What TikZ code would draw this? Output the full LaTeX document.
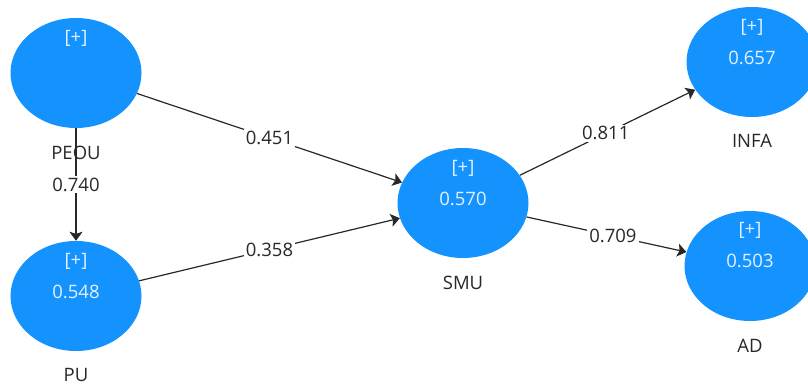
\documentclass[tikz,border=0pt]{standalone}
\usepackage{fontspec}
\setmainfont{Open Sans}
\usetikzlibrary{shapes.geometric,arrows.meta}
\definecolor{lvblue}{RGB}{20,147,255}
\definecolor{intext}{RGB}{228,240,255}
\definecolor{darktext}{RGB}{40,40,40}
\definecolor{lineclr}{RGB}{40,40,40}
\begin{document}
\begin{tikzpicture}[x=1pt,y=-1pt,
  latent/.style={ellipse,fill=lvblue,draw=none,minimum width=131pt,minimum height=110pt,inner sep=0pt},
  intxt/.style={text=intext,font=\fontsize{18.5}{20}\selectfont,inner sep=0pt},
  varname/.style={text=darktext,font=\fontsize{18.5}{20}\selectfont,inner sep=0pt},
  elab/.style={text=darktext,fill=white,font=\fontsize{18.5}{20}\selectfont,inner sep=2pt,pos=0.5},
  conn/.style={draw=lineclr,line width=1.2pt,-{Stealth[length=9pt,width=13pt,inset=2pt]}}]
\useasboundingbox (0,0) rectangle (808,385);
% latent variables
\node[latent] (peou) at (76,73) {};
\node[latent] (pu) at (76,296) {};
\node[latent] (smu) at (463,203) {};
\node[latent] (infa) at (752,62) {};
\node[latent] (ad) at (750,266) {};
% inner texts
\node[intxt] (peouplus) at (76,38) {[+]};
\node[intxt] (puplus) at (76,261) {[+]};
\node[intxt] (puval) at (76,292) {0.548};
\node[intxt] (smuplus) at (463,168) {[+]};
\node[intxt] (smuval) at (463,199) {0.570};
\node[intxt] (infaplus) at (752,27) {[+]};
\node[intxt] (infaval) at (752,58) {0.657};
\node[intxt] (adplus) at (750,230) {[+]};
\node[intxt] (adval) at (750,261) {0.503};
% names
\node[varname] (peouname) at (76,153) {PEOU};
\node[varname] (puname) at (76,375) {PU};
\node[varname] (smuname) at (463,283) {SMU};
\node[varname] (infaname) at (752,141) {INFA};
\node[varname] (adname) at (750,346) {AD};
% paths
\draw[conn] (peou) -- node[elab] {0.740} (pu);
\draw[conn] (peou) -- node[elab] {0.451} (smu);
\draw[conn] (pu) -- node[elab] {0.358} (smu);
\draw[conn] (smu) -- node[elab,pos=0.49] {0.811} (infa);
\draw[conn] (smu) -- node[elab,pos=0.54] {0.709} (ad);
\end{tikzpicture}
\end{document}
